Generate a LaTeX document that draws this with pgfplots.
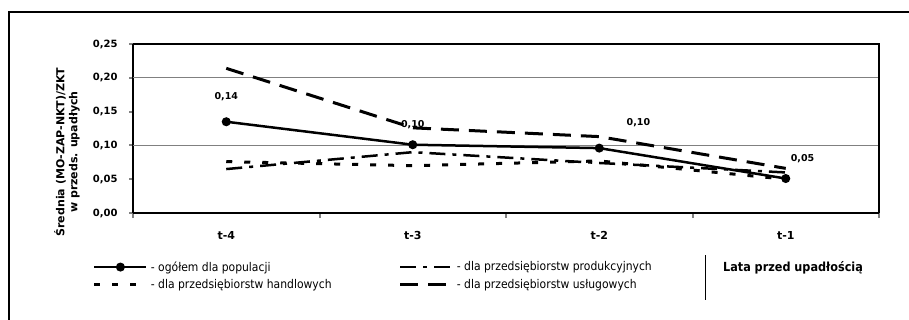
\documentclass[border=0pt]{standalone}
\usepackage{fontspec}
\setmainfont{DejaVu Sans}
\newfontfamily\cond{DejaVu Sans Condensed}
\usepackage{pgfplots}
\pgfplotsset{compat=1.18}
\begin{document}
\begin{tikzpicture}[x=1pt,y=1pt]
\path[use as bounding box] (0pt,0pt) rectangle (909pt,319pt);
\draw[line width=2pt] (9pt,-10pt) -- (9pt,307pt) -- (925pt,307pt);
\begin{axis}[
  at={(133pt,106pt)}, anchor=south west, scale only axis,
  width=746pt, height=169pt,
  xmin=-0.5, xmax=3.5, ymin=0, ymax=0.25,
  axis lines=left, axis line style={-, line width=2.5pt},
  clip=false,
  xtick={0,1,2,3}, xticklabels={t-4,t-3,t-2,t-1},
  major x tick style={draw=none},
  minor xtick={-0.5,0.5,1.5,2.5,3.5},
  minor x tick style={line width=2pt},
  minor tick length=5pt,
  tick align=outside,
  major tick length=4pt,
  ytick={0,0.05,0.1,0.15,0.2,0.25},
  y tick style={line width=2pt},
  /pgf/number format/fixed, /pgf/number format/fixed zerofill,
  /pgf/number format/precision=2, /pgf/number format/use comma,
  /pgf/number format/assume math mode=true,
  yticklabel style={font=\bfseries\fontsize{10}{12}\selectfont, xshift=-8pt},
  xticklabel style={font=\bfseries\fontsize{11}{13}\selectfont, yshift=-11pt},
  extra y ticks={0.1,0.2}, extra y tick labels={},
  extra y tick style={grid=major, major tick length=0pt, grid style={line width=1pt, gray}},
  legend columns=2,
  legend cell align=left,
  legend style={at={(-0.054,-0.28)}, anchor=north west, draw=none, fill=none,
    inner sep=0pt, font=\cond\fontsize{12}{14}\selectfont,
    nodes={inner sep=1pt},
    /tikz/every odd column/.append style={column sep=2pt},
    row sep=5pt},
  legend image code/.code={\draw[mark repeat=2,mark phase=2,#1] plot coordinates {(0pt,0pt) (26pt,0pt) (52pt,0pt)};},
]
\addplot[black, line width=2.5pt, mark=*, mark size=3.2pt, mark options={solid}]
  coordinates {(0,0.135) (1,0.101) (2,0.096) (3,0.051)};
\addlegendentry{\makebox[247pt][l]{- ogółem dla populacji}}
\addplot[black, line width=2.5pt, dash pattern=on 16pt off 7pt on 4pt off 7pt]
  coordinates {(0,0.065) (1,0.090) (2,0.074) (3,0.060)};
\addlegendentry{- dla przedsiębiorstw produkcyjnych}
\addplot[black, line width=3pt, dash pattern=on 6pt off 12pt]
  coordinates {(0,0.076) (1,0.070) (2,0.077) (3,0.050)};
\addlegendentry{\makebox[247pt][l]{- dla przedsiębiorstw handlowych}}
\addplot[black, line width=3pt, dash pattern=on 18pt off 10pt]
  coordinates {(0,0.214) (1,0.126) (2,0.113) (3,0.066)};
\addlegendentry{- dla przedsiębiorstw usługowych}
\addplot[forget plot, draw=none, mark=none, nodes near coords, point meta=explicit symbolic,
  nodes near coords style={anchor=center, inner sep=0pt, font=\bfseries\fontsize{9.5}{11}\selectfont}]
  coordinates {(0,0.172)[0,14] (1,0.130)[0,10] (2.21,0.133)[0,10] (3.09,0.081)[0,05]};
\draw[line width=2pt] (rel axis cs:0,1) -- (rel axis cs:1,1) -- (rel axis cs:1,0);
\end{axis}
\node[rotate=90, align=center, font=\bfseries\fontsize{11}{13}\selectfont] at (67pt,167pt)
  {Średnia (MO-ZAP-NKT)/ZKT\\w przeds. upadłych};
\draw[line width=1pt] (705pt,64pt) -- (705pt,19pt);
\node[font=\cond\bfseries\fontsize{12.5}{14}\selectfont] at (793pt,51pt) {Lata przed upadłością};
\end{tikzpicture}
\end{document}
